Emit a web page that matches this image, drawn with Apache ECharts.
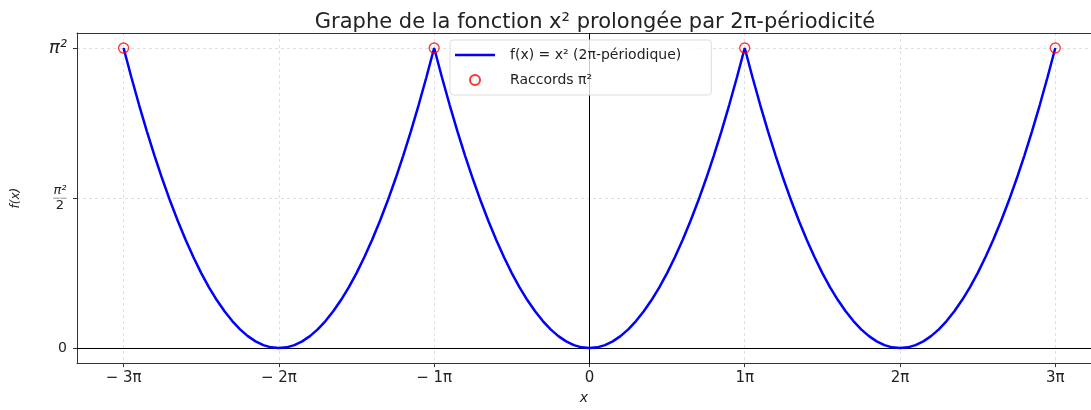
<!DOCTYPE html>
<html>
<head>
<meta charset="utf-8">
<script src="https://cdn.jsdelivr.net/npm/echarts@6/dist/echarts.min.js"></script>
<style>
  html, body { margin: 0; padding: 0; background: #fff; }
  #chart { width: 1091px; height: 410px; }
</style>
</head>
<body>
<div id="chart"></div>
<script>
// abscisses en unités de pi, ordonnées en unités de pi^2 (pas de 0.05 pi)
var xPi = [
  -3, -2.95, -2.9, -2.85, -2.8, -2.75, -2.7, -2.65, -2.6, -2.55, -2.5, -2.45, -2.4, -2.35, -2.3, -2.25, -2.2, -2.15, -2.1, -2.05,
  -2, -1.95, -1.9, -1.85, -1.8, -1.75, -1.7, -1.65, -1.6, -1.55, -1.5, -1.45, -1.4, -1.35, -1.3, -1.25, -1.2, -1.15, -1.1, -1.05,
  -1, -0.95, -0.9, -0.85, -0.8, -0.75, -0.7, -0.65, -0.6, -0.55, -0.5, -0.45, -0.4, -0.35, -0.3, -0.25, -0.2, -0.15, -0.1, -0.05,
  0, 0.05, 0.1, 0.15, 0.2, 0.25, 0.3, 0.35, 0.4, 0.45, 0.5, 0.55, 0.6, 0.65, 0.7, 0.75, 0.8, 0.85, 0.9, 0.95,
  1, 1.05, 1.1, 1.15, 1.2, 1.25, 1.3, 1.35, 1.4, 1.45, 1.5, 1.55, 1.6, 1.65, 1.7, 1.75, 1.8, 1.85, 1.9, 1.95,
  2, 2.05, 2.1, 2.15, 2.2, 2.25, 2.3, 2.35, 2.4, 2.45, 2.5, 2.55, 2.6, 2.65, 2.7, 2.75, 2.8, 2.85, 2.9, 2.95,
  3];
var yPi2 = [
  1, 0.9025, 0.81, 0.7225, 0.64, 0.5625, 0.49, 0.4225, 0.36, 0.3025, 0.25, 0.2025, 0.16, 0.1225, 0.09, 0.0625, 0.04, 0.0225, 0.01, 0.0025,
  0, 0.0025, 0.01, 0.0225, 0.04, 0.0625, 0.09, 0.1225, 0.16, 0.2025, 0.25, 0.3025, 0.36, 0.4225, 0.49, 0.5625, 0.64, 0.7225, 0.81, 0.9025,
  1, 0.9025, 0.81, 0.7225, 0.64, 0.5625, 0.49, 0.4225, 0.36, 0.3025, 0.25, 0.2025, 0.16, 0.1225, 0.09, 0.0625, 0.04, 0.0225, 0.01, 0.0025,
  0, 0.0025, 0.01, 0.0225, 0.04, 0.0625, 0.09, 0.1225, 0.16, 0.2025, 0.25, 0.3025, 0.36, 0.4225, 0.49, 0.5625, 0.64, 0.7225, 0.81, 0.9025,
  1, 0.9025, 0.81, 0.7225, 0.64, 0.5625, 0.49, 0.4225, 0.36, 0.3025, 0.25, 0.2025, 0.16, 0.1225, 0.09, 0.0625, 0.04, 0.0225, 0.01, 0.0025,
  0, 0.0025, 0.01, 0.0225, 0.04, 0.0625, 0.09, 0.1225, 0.16, 0.2025, 0.25, 0.3025, 0.36, 0.4225, 0.49, 0.5625, 0.64, 0.7225, 0.81, 0.9025,
  1];
// points de raccord
var raccordX = [-3, -1, 1, 3];
var raccordY = [1, 1, 1, 1];
// graduations
var xTicks = [-3, -2, -1, 0, 1, 2, 3];
var yTicks = [0, 0.5, 1];

var courbe = xPi.map(function (x, i) { return [x, yPi2[i]]; });
var raccords = raccordX.map(function (x, i) { return [x, raccordY[i]]; });

var mathFont = 'DejaVu Sans';
var textFont = '"DejaVu Sans", sans-serif';
var xMin = -3.3, xMax = 3.23;

var chart = echarts.init(document.getElementById('chart'));
chart.setOption({
  animation: false,
  backgroundColor: '#fff',
  title: {
    text: 'Graphe de la fonction x² prolongée par 2π-périodicité',
    left: 590,
    textAlign: 'center',
    top: 7,
    textStyle: { fontFamily: textFont, fontSize: 21, fontWeight: 'normal', color: '#222' }
  },
  grid: { left: 77, top: 33, right: 0, bottom: 37 },
  legend: {
    left: 450, top: 40,
    orient: 'vertical',
    itemWidth: 40, itemHeight: 10, itemGap: 11,
    symbolKeepAspect: true,
    padding: [8, 30, 8, 5],
    backgroundColor: 'rgba(255,255,255,0.8)',
    borderColor: '#ddd', borderWidth: 1, borderRadius: 3,
    textStyle: { fontFamily: textFont, fontSize: 14, color: '#222', padding: [0, 0, 0, 10] },
    data: [
      { name: 'f(x) = x² (2π-périodique)', icon: 'path://M0,0 H40 V2.5 H0 Z' },
      { name: 'Raccords π²', icon: 'circle' }
    ]
  },
  xAxis: [{
    type: 'value',
    min: xMin, max: xMax,
    name: 'x', nameLocation: 'middle', nameGap: 27,
    nameTextStyle: { fontFamily: mathFont, fontStyle: 'italic', fontSize: 14, color: '#222' },
    axisLine: { show: true, onZero: false, lineStyle: { color: '#333' } },
    axisTick: { show: true, customValues: xTicks, length: 4, lineStyle: { color: '#333' } },
    axisLabel: {
      customValues: xTicks,
      fontFamily: mathFont, fontSize: 15, color: '#222', margin: 8,
      formatter: function (v) {
        if (v === 0) return '0';
        return (v < 0 ? '− ' + (-v) : v) + 'π';
      }
    },
    splitLine: { show: true, lineStyle: { color: '#d8d8d8', type: [3, 3], width: 0.8 } }
  }, {
    // bord supérieur du cadre
    type: 'value', position: 'top',
    min: xMin, max: xMax,
    axisLine: { show: true, onZero: false, lineStyle: { color: '#333' } },
    axisTick: { show: false }, axisLabel: { show: false }, splitLine: { show: false }
  }],
  yAxis: {
    type: 'value',
    min: -0.05, max: 1.05,
    name: 'f(x)', nameLocation: 'middle', nameGap: 55,
    nameTextStyle: { fontFamily: mathFont, fontStyle: 'italic', fontSize: 12, color: '#222' },
    axisLine: { show: true, onZero: false, lineStyle: { color: '#333' } },
    axisTick: { show: true, customValues: yTicks, length: 4, lineStyle: { color: '#333' } },
    axisLabel: {
      customValues: yTicks,
      fontFamily: mathFont, fontSize: 14, color: '#222', margin: 10,
      formatter: function (v) {
        if (v === 0) return '0';
        if (v === 1) return '{b|π²}';
        return '{n|π²}\n{l|——}\n{d|2}';
      },
      rich: {
        b: { fontFamily: mathFont, fontStyle: 'italic', fontSize: 18 },
        n: { fontFamily: mathFont, fontStyle: 'italic', fontSize: 13, lineHeight: 12, align: 'center' },
        l: { fontFamily: mathFont, fontSize: 7, lineHeight: 3, align: 'center' },
        d: { fontFamily: mathFont, fontSize: 13, lineHeight: 12, align: 'center' }
      }
    },
    splitLine: { show: true, lineStyle: { color: '#d8d8d8', type: [3, 3], width: 0.8 } }
  },
  series: [
    {
      name: 'f(x) = x² (2π-périodique)',
      type: 'line',
      data: courbe,
      showSymbol: false,
      symbol: 'none',
      lineStyle: { color: '#0000ff', width: 2.5 },
      itemStyle: { color: '#0000ff' },
      z: 3,
      markLine: {
        silent: true,
        symbol: 'none',
        label: { show: false },
        lineStyle: { color: '#000', width: 1, type: 'solid' },
        data: [{ xAxis: 0 }, { yAxis: 0 }],
        z: 2
      }
    },
    {
      name: 'Raccords π²',
      type: 'scatter',
      data: raccords,
      symbol: 'circle',
      symbolSize: 10,
      itemStyle: { color: 'transparent', borderColor: '#ff0000', borderWidth: 1.3 },
      z: 4
    }
  ]
});
</script>
</body>
</html>
